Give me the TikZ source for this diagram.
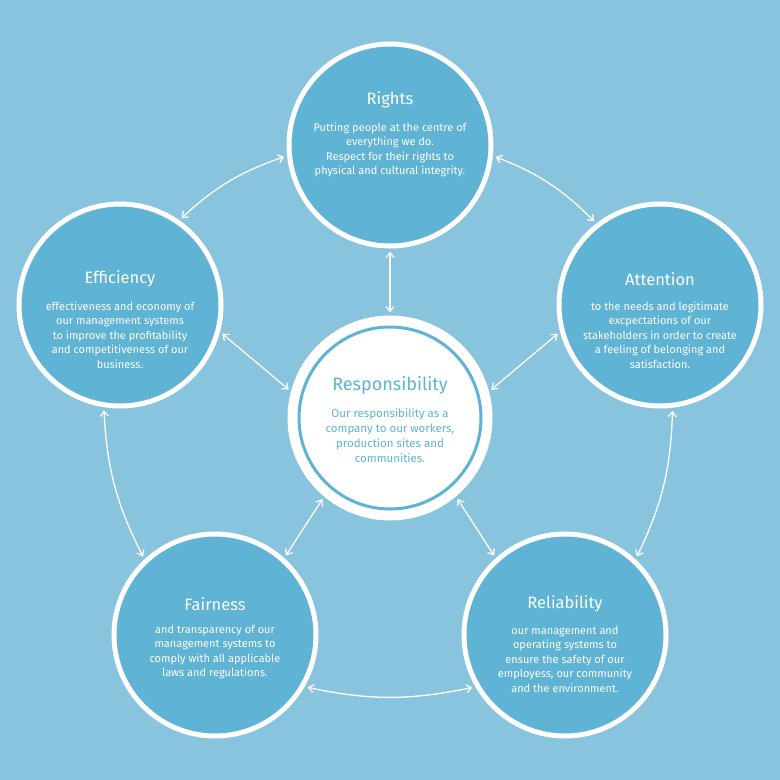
\documentclass[tikz,border=0pt]{standalone}
\usepackage{fontspec}
\setmainfont{Fira Sans}
\usetikzlibrary{arrows.meta}
\definecolor{bg}{HTML}{89C4DE}
\definecolor{cb}{HTML}{5FB3D4}
\tikzset{
 outer/.style={circle,fill=cb,draw=white,line width=5pt,minimum size=202pt,inner sep=0pt},
 inner/.style={circle,fill=white,draw=white,line width=5pt,minimum size=200pt,inner sep=0pt},
 ttl/.style={text=white,font=\fontsize{16.5}{19}\selectfont},
 bdy/.style={text=white,font=\fontsize{11}{14.5}\selectfont,align=center},
 con/.style={white,line width=1.3pt,{Straight Barb[length=5pt,width=8pt]}-{Straight Barb[length=5pt,width=8pt]},shorten <=3pt,shorten >=3pt}
}
\begin{document}
\begin{tikzpicture}[x=1pt,y=-1pt]
\fill[bg] (0,0) rectangle (780,780);
\node[outer] (r) at (390,145) {};
\node[outer] (e) at (120,305) {};
\node[outer] (a) at (660,305) {};
\node[outer] (f) at (215,635) {};
\node[outer] (l) at (565,635) {};
\node[inner] (c) at (390,418) {};
\draw[cb,line width=3pt] (390,418) circle (91);
\node[ttl] at (390,100) {Rights};
\node[bdy] at (390,150) {Putting people at the centre of\\everything we do.\\Respect for their rights to\\physical and cultural integrity.};
\node[ttl] at (120,279) {Efficiency};
\node[bdy] at (120,335) {effectiveness and economy of\\our management systems\\to improve the profitability\\and competitiveness of our\\business.};
\node[ttl] at (660,279) {Attention};
\node[bdy] at (660,335) {to the needs and legitimate\\excpectations of our\\stakeholders in order to create\\a feeling of belonging and\\satisfaction.};
\node[ttl] at (215,604) {Fairness};
\node[bdy] at (215,652) {and transparency of our\\management systems to\\comply with all applicable\\laws and regulations.};
\node[ttl] at (565,604) {Reliability};
\node[bdy] at (565,659) {our management and\\operating systems to\\ensure the safety of our\\employess, our community\\and the environment.};
\node[ttl,text=cb,font=\fontsize{18}{21}\selectfont] at (390,385) {Responsibility};
\node[bdy,text=cb,font=\fontsize{11.5}{15}\selectfont] at (390,436) {Our responsibility as a\\company to our workers,\\production sites and\\communities.};
\draw[con] (r) -- (c);
\draw[con] (e.-15) -- (c.165);
\draw[con] (a.195) -- (c.15);
\draw[con] (f.48) -- (c.230);
\draw[con] (l.132) -- (c.310);
\draw[con] (r.186) to[bend right=12] (e.55);
\draw[con] (r.-6) to[bend left=12] (a.128);
\draw[con] (e.261) to[bend right=12] (f.133);
\draw[con] (a.277) to[bend left=12] (l.47);
\draw[con] (f.-30) to[bend right=12] (l.210);
\end{tikzpicture}
\end{document}
